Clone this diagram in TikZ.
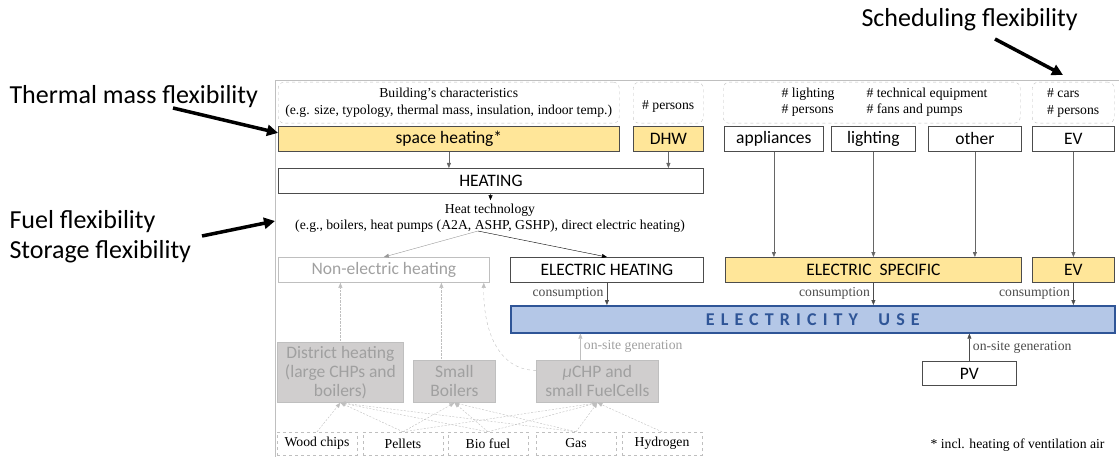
\documentclass[tikz,border=0pt]{standalone}
\usepackage{fontspec}
\setmainfont{Liberation Serif}
\newfontfamily\calibri{Carlito}
\newfontfamily\spaced[LetterSpace=34]{Carlito}
\usetikzlibrary{arrows.meta}
\definecolor{sand}{HTML}{FFE699}
\definecolor{elblue}{HTML}{B4C7E7}
\definecolor{eldark}{HTML}{2F5597}
\definecolor{ash}{HTML}{D0CECE}
\definecolor{frame}{HTML}{BFBFBF}
\definecolor{dimtext}{HTML}{A0A0A0}
\tikzset{
  box/.style={draw=black!70, line width=0.8pt, anchor=north west, inner sep=0pt, font=\calibri\fontsize{17.5}{19}\selectfont},
  demand/.style={box, fill=sand},
  ghost/.style={box, draw=frame, fill=ash, text=dimtext, align=center},
  info/.style={draw=frame, dashed, rounded corners=6pt, anchor=north west, inner sep=0pt, font=\fontsize{13.7}{17}\selectfont},
  fuel/.style={draw=frame, dashed, minimum width=80pt, minimum height=23pt, inner sep=0pt, font=\fontsize{13.7}{16}\selectfont},
  small/.style={font=\fontsize{13.7}{16}\selectfont},
  flex/.style={font=\calibri\fontsize{26}{30}\selectfont, anchor=west},
  bigarrow/.style={line width=3.5pt, -{Triangle[length=11pt,width=11pt]}},
}
\begin{document}
\begin{tikzpicture}[x=1pt, y=-1pt, >={Triangle[length=5pt,width=4pt]}]
  \useasboundingbox (0,0) rectangle (1119,457);
  \draw[frame] (275,457) |- (1119,80);
  \node[info, minimum width=341pt, minimum height=41pt, align=center] (bchar) at (278,82) {Building's characteristics\\(e.g. size, typology, thermal mass, insulation, indoor temp.)};
  \node[info, minimum width=70pt, minimum height=41pt, align=center] (pers) at (633,82) {\mbox{}\\\# persons};
  \node[demand, minimum width=341pt, minimum height=25pt] (sh) at (278,126) {space heating*};
  \node[demand, minimum width=70pt, minimum height=25pt] (dhw) at (633,126) {DHW};
  \node[box, minimum width=425pt, minimum height=25pt] (heat) at (278,168) {HEATING};
  \node[small, align=center] (tech) at (490,218) {Heat technology\\(e.g., boilers, heat pumps (A2A, ASHP, GSHP), direct electric heating)};
  \coordinate (split) at (478,231);
  \node[box, draw=frame, text=dimtext, minimum width=211pt, minimum height=25pt] (neh) at (278,257) {Non-electric heating};
  \node[box, minimum width=193pt, minimum height=25pt] (eh) at (510,257) {ELECTRIC HEATING};

  \node[info, minimum width=297pt, minimum height=41pt] (lp) at (723,82) {};
  \node[small, align=left, anchor=west] (lpa) at (778,102.5) {\# lighting\\\# persons};
  \node[small, align=left, anchor=west] (lpb) at (863,102.5) {\# technical equipment\\\# fans and pumps};
  \node[info, minimum width=82pt, minimum height=41pt, align=left] (cars) at (1032,82) {\# cars\\\# persons};
  \node[box, minimum width=99pt, minimum height=25pt] (app) at (724,126) {appliances};
  \node[box, minimum width=84pt, minimum height=25pt] (lig) at (831,126) {lighting};
  \node[box, minimum width=93pt, minimum height=25pt] (oth) at (928,126) {other};
  \node[box, minimum width=82pt, minimum height=25pt] (evt) at (1032,126) {EV};
  \node[demand, minimum width=296pt, minimum height=25pt] (es) at (725,257) {ELECTRIC\ \ SPECIFIC};
  \node[demand, minimum width=82pt, minimum height=25pt] (evb) at (1032,257) {EV};
  \node[box, draw=eldark, line width=1.6pt, fill=elblue, text=eldark, minimum width=604pt, minimum height=27pt] (eu) at (510,305) {\spaced\bfseries\fontsize{18}{20}\selectfont ELECTRICITY\ \ USE};
  \node[box, minimum width=94pt, minimum height=24pt] (pv) at (922,361) {PV};

  \node[ghost, minimum width=126pt, minimum height=60pt] (dh) at (277,342) {District heating\\(large CHPs and\\boilers)};
  \node[ghost, minimum width=82pt, minimum height=42pt] (sb) at (413,360) {Small\\Boilers};
  \node[ghost, minimum width=122pt, minimum height=42pt] (chp) at (536,360) {{\itshape μ}CHP and\\small FuelCells};
  \foreach \x/\f/\t in {317/wood/Wood chips, 403/pellets/Pellets, 488/bio/Bio fuel, 576/gas/Gas, 662/hyd/Hydrogen}
    \node[fuel] (\f) at (\x,443.5) {\t};

  \draw[->, black!60] (sh) -- (sh |- heat.north);
  \draw[->, black!60] (dhw) -- (dhw |- heat.north);
  \draw[->] (heat) -- (tech);
  \draw[->, frame!80!black] (split) -- (neh.north);
  \draw[->] (split) -- (eh.north);
  \foreach \s in {app, lig, oth}
    \draw[->, black!60] (\s) -- (\s |- es.north);
  \draw[->, black!60] (evt) -- (evb);
  \draw[->, black!70] (eh) -- (eh |- eu.north) node[midway, left, small] {consumption};
  \draw[->, black!70] (es) -- (es |- eu.north) node[midway, left, small] {consumption};
  \draw[->, black!70] (evb) -- (evb |- eu.north) node[midway, left, small] {consumption};
  \draw[->, black!70] (pv) -- (pv |- eu.south) node[midway, right, small] {on-site generation};
  \draw[->, frame] ([xshift=-17pt]chp.north) -- ([xshift=-17pt]chp.north |- eu.south) node[midway, right, small, text=dimtext] {on-site generation};
  \draw[->, frame, densely dotted] (dh) -- (dh |- neh.south);
  \draw[->, frame, densely dotted] ([xshift=-13pt]sb.north) -- ([xshift=-13pt]sb.north |- neh.south);
  \draw[->, frame, dashed] ([yshift=11pt]chp.west) .. controls (498,370) and (483,330) .. ([xshift=-6pt]neh.south east);
  \foreach \f/\t in {wood/dh, pellets/dh, pellets/sb, pellets/chp, bio/dh, bio/sb, bio/chp, gas/dh, gas/sb, gas/chp, hyd/chp}
    \draw[->, frame, dash pattern=on 2pt off 1.5pt] (\f.north) -- (\t.south);

  \node[small, anchor=east] (note) at (1108,445) {* incl. heating of ventilation air};

  \node[flex] (thermal) at (6,97) {Thermal mass flexibility};
  \node[flex, align=left] (fuelflex) at (6,237) {Fuel flexibility\\Storage flexibility};
  \node[flex] (sched) at (858,20) {Scheduling flexibility};
  \coordinate (tmfrom) at (173,108);
  \coordinate (fffrom) at (202,236);
  \coordinate (ffto) at (275,221);
  \coordinate (scfrom) at (995,39);
  \coordinate (scto) at (1063,75);
  \draw[bigarrow] (tmfrom) -- ([yshift=6pt]sh.west);
  \draw[bigarrow] (fffrom) -- (ffto);
  \draw[bigarrow] (scfrom) -- (scto);
\end{tikzpicture}
\end{document}
